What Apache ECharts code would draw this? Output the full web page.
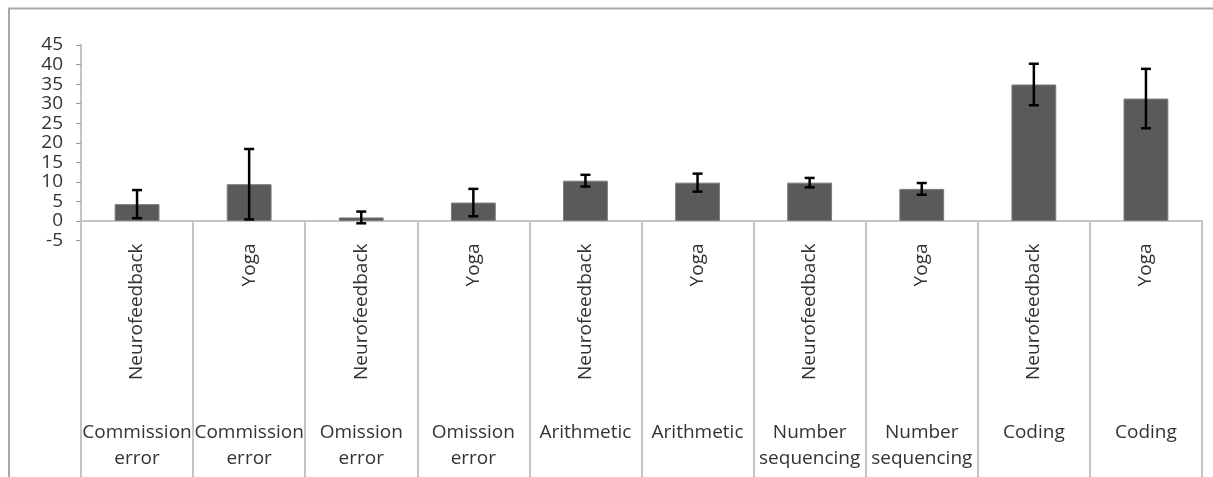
<!DOCTYPE html>
<html>
<head>
<meta charset="utf-8">
<script src="https://cdn.jsdelivr.net/npm/echarts@6/dist/echarts.min.js"></script>
<style>
  html, body { margin: 0; padding: 0; background: #fff; }
  #main { width: 1213px; height: 477px; }
</style>
</head>
<body>
<div id="main"></div>
<script>
// 组别（底部标签）
const groups = [
  "Commission\nerror", "Commission\nerror",
  "Omission\nerror", "Omission\nerror",
  "Arithmetic", "Arithmetic",
  "Number\nsequencing", "Number\nsequencing",
  "Coding", "Coding",
];
// 方法（竖排标签）
const methods = [
  "Neurofeedback", "Yoga", "Neurofeedback", "Yoga", "Neurofeedback",
  "Yoga", "Neurofeedback", "Yoga", "Neurofeedback", "Yoga",
];
const means = [4.3, 9.4, 0.9, 4.7, 10.3, 9.8, 9.8, 8.2, 34.9, 31.3];
const errors = [3.6, 9.0, 1.5, 3.5, 1.5, 2.3, 1.2, 1.5, 5.3, 7.6];
const yTicks = [-5, 0, 5, 10, 15, 20, 25, 30, 35, 40, 45];

const font = "'Open Sans', 'Liberation Sans', sans-serif";
const lineColor = "#c4c4c4";

const errorData = means.map((m, i) => [i, m - errors[i], m + errors[i]]);

const chart = echarts.init(document.getElementById("main"));

const options = {
  animation: false,
  graphic: [
    {
      type: "rect",
      shape: { x: 9, y: 8.5, width: 1400, height: 600 },
      style: { fill: "none", stroke: "#a8a8a8", lineWidth: 2 },
      z: 0,
    },
  ],
  grid: {
    left: 81,
    right: 11,
    top: 45,
    bottom: 236.5,
  },
  xAxis: [
    {
      type: "category",
      data: methods,
      axisLine: { onZero: true, lineStyle: { color: lineColor, width: 2 } },
      axisTick: {
        show: true,
        interval: 0,
        length: 270,
        lineStyle: { color: lineColor, width: 2 },
      },
      axisLabel: {
        interval: 0,
        rotate: 90,
        margin: 3, // 标签从网格底部算起
        fontFamily: font,
        fontSize: 19,
        color: "#333",
      },
    },
    {
      type: "category",
      data: groups,
      position: "bottom",
      axisLine: { show: false, onZero: false },
      axisTick: { show: false },
      axisLabel: {
        interval: 0,
        margin: 179,
        fontFamily: font,
        fontSize: 19,
        lineHeight: 26,
        color: "#333",
      },
    },
  ],
  yAxis: {
    type: "value",
    min: yTicks[0],
    max: yTicks[yTicks.length - 1],
    interval: 5,
    splitLine: { show: false },
    axisLine: { show: true, lineStyle: { color: lineColor, width: 2 } },
    axisTick: { show: true, length: 5, lineStyle: { color: "#999" } },
    axisLabel: {
      margin: 18,
      fontFamily: font,
      fontSize: 19,
      color: "#333",
    },
  },
  series: [
    {
      type: "bar",
      data: means,
      barWidth: "40%",
      itemStyle: {
        color: "#5a5a5a",
        borderColor: "#7c7c7c",
        borderWidth: 1,
      },
    },
    {
      type: "custom",
      data: errorData,
      z: 5,
      renderItem: (params, api) => {
        const x = api.value(0);
        const lo = api.coord([x, api.value(1)]);
        const hi = api.coord([x, api.value(2)]);
        const cap = 5;
        const style = { stroke: "#000", lineWidth: 2.5 };
        return {
          type: "group",
          children: [
            { type: "line", shape: { x1: hi[0], y1: hi[1], x2: lo[0], y2: lo[1] }, style },
            { type: "line", shape: { x1: hi[0] - cap, y1: hi[1], x2: hi[0] + cap, y2: hi[1] }, style },
            { type: "line", shape: { x1: lo[0] - cap, y1: lo[1], x2: lo[0] + cap, y2: lo[1] }, style },
          ],
        };
      },
    },
  ],
};

chart.setOption(options);

window.addEventListener("resize", () => {
  chart.resize();
});
</script>
</body>
</html>
